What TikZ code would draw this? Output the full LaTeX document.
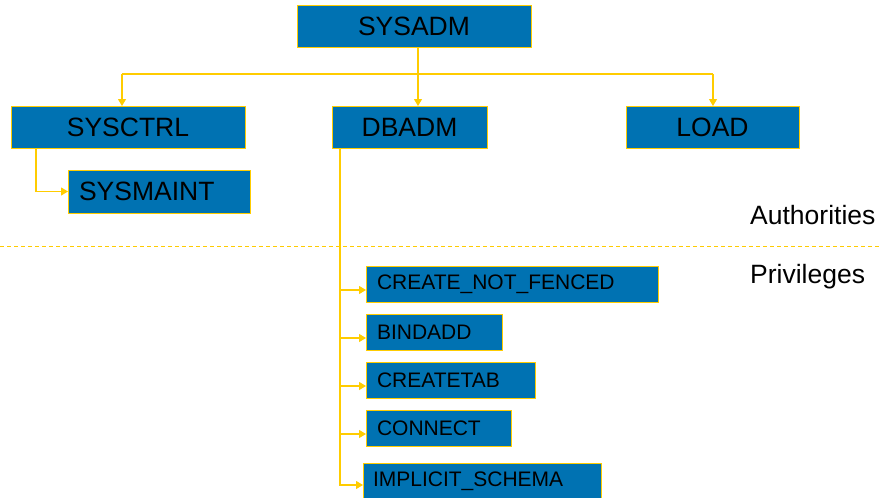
\documentclass[tikz,border=0pt]{standalone}
\usepackage{fontspec}
\setmainfont{Liberation Sans}
\usetikzlibrary{arrows.meta}
\definecolor{boxblue}{RGB}{0,114,178}
\definecolor{lineyellow}{RGB}{255,204,0}
\tikzset{
  bigbox/.style={draw=lineyellow, line width=1pt, fill=boxblue, inner sep=0pt, outer sep=0pt,
    anchor=north west, font=\fontsize{26.5}{30}\selectfont, text=black},
  smallbox/.style={draw=lineyellow, line width=1pt, fill=boxblue, inner sep=0pt, outer sep=0pt,
    anchor=north west, font=\fontsize{21}{24}\selectfont, text=black, align=left},
  conn/.style={draw=lineyellow, line width=1.1pt},
  arr/.style={conn, -{Triangle[length=7pt,width=8pt]}},
  lbl/.style={font=\fontsize{26.5}{30}\selectfont, text=black, anchor=west, inner sep=0pt},
}
\begin{document}
\begin{tikzpicture}[x=1pt,y=-1pt]
\useasboundingbox (0,0) rectangle (881,498);
\clip (0,0) rectangle (881,498);
% authority boxes
\node[bigbox, minimum width=234pt, minimum height=42pt] (sysadm) at (297,5) {SYSADM};
\node[bigbox, minimum width=234pt, minimum height=42pt] (sysctrl) at (11,106) {SYSCTRL};
\node[bigbox, minimum width=155pt, minimum height=42pt] (dbadm) at (332,106) {DBADM};
\node[bigbox, minimum width=173pt, minimum height=42pt] (load) at (626,106) {LOAD};
\node[bigbox, minimum width=182pt, minimum height=43pt, text width=182pt, align=left] (sysmaint) at (68,170) {\hspace*{11pt}SYSMAINT};
% privilege boxes
\node[smallbox, minimum width=292pt, minimum height=36pt, text width=292pt] (p1) at (366,266) {\hspace*{11pt}CREATE\_NOT\_FENCED};
\node[smallbox, minimum width=136pt, minimum height=36pt, text width=136pt] (p2) at (366,314) {\hspace*{11pt}BINDADD};
\node[smallbox, minimum width=169pt, minimum height=36pt, text width=169pt] (p3) at (366,362) {\hspace*{11pt}CREATETAB};
\node[smallbox, minimum width=145pt, minimum height=36pt, text width=145pt] (p4) at (366,410) {\hspace*{11pt}CONNECT};
\node[smallbox, minimum width=238pt, minimum height=36pt, text width=238pt] (p5) at (363,463) {\hspace*{10pt}IMPLICIT\_SCHEMA};
% labels
\node[lbl] (auth) at (750,215) {Authorities};
\node[lbl] (priv) at (750,277) {Privileges};
% separator
\coordinate (sepL) at (0,246);
\coordinate (sepR) at (881,246);
\draw[draw=lineyellow, line width=1pt, dash pattern=on 4pt off 3pt] (sepL) -- (sepR);
% connectors from SYSADM
\coordinate (jc) at (418,74);
\coordinate (ja) at (122,74);
\coordinate (jb) at (713,74);
\draw[conn] (sysadm.south -| jc) -- (jc);
\draw[conn] (ja) -- (jb);
\draw[arr] (ja) -- (ja |- sysctrl.north);
\draw[arr] (jc) -- (jc |- dbadm.north);
\draw[arr] (jb) -- (jb |- load.north);
% SYSCTRL -> SYSMAINT
\draw[arr] ([xshift=25pt]sysctrl.south west) |- (sysmaint.west);
% DBADM -> privileges
\coordinate (d0) at ([xshift=8pt]dbadm.south west);
\draw[arr] (d0) |- ([yshift=-6pt]p1.west);
\draw[arr] (d0) |- ([yshift=-6pt]p2.west);
\draw[arr] (d0) |- ([yshift=-6pt]p3.west);
\draw[arr] (d0) |- ([yshift=-6pt]p4.west);
\draw[arr] (d0) |- ([yshift=-4pt]p5.west);
\end{tikzpicture}
\end{document}
